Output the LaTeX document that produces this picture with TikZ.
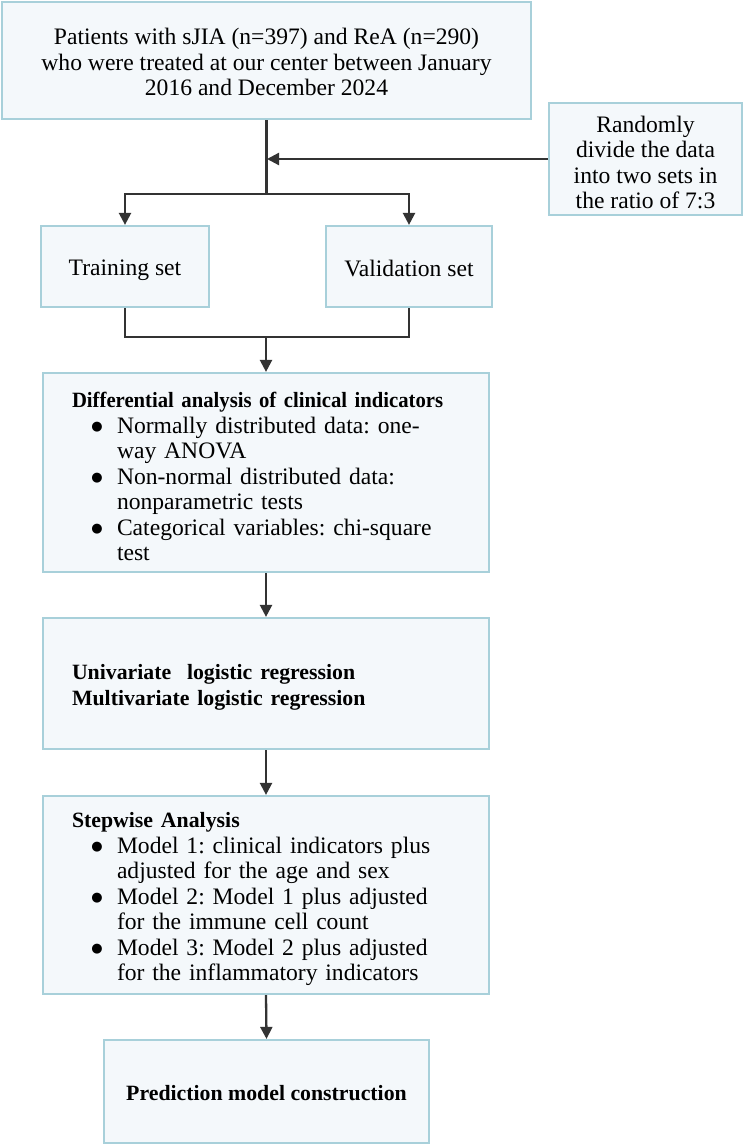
\documentclass[tikz,border=0pt]{standalone}
\usepackage{fontspec}
\setmainfont{Liberation Serif}
\newfontfamily\symfont{DejaVu Sans}
\usetikzlibrary{arrows.meta}
\definecolor{boxfill}{RGB}{244,248,251}
\definecolor{boxline}{RGB}{168,208,218}
\definecolor{arrowc}{RGB}{51,51,51}
\newcommand{\regfont}{\fontsize{23.6}{25.5}\selectfont\frenchspacing}
\newcommand{\titfont}{\fontsize{21.8}{25.5}\selectfont\bfseries}
\newcommand{\bul}{\hspace*{25pt}\makebox[0pt][c]{\raisebox{3pt}{\symfont\fontsize{13}{14}\selectfont ●}}\hspace*{20pt}}
\newcommand{\cont}{\hspace*{45pt}}
\begin{document}
\begin{tikzpicture}[x=1pt,y=-1pt,
  box/.style={draw=boxline, line width=2.2pt, fill=boxfill, inner sep=0pt},
  txt/.style={inner sep=0pt, font=\regfont},
  ltxt/.style={txt, text width=388pt, align=left},
  conn/.style={draw=arrowc, line width=2.3pt},
  arr/.style={conn, -{Triangle[length=12pt,width=12pt]}}]
\useasboundingbox (0,0) rectangle (744,1145);
% boxes
\node[box, minimum width=529pt, minimum height=117pt] (top) at (266.5,60.5) {};
\node[box, minimum width=193pt, minimum height=112pt] (rand) at (645.5,159) {};
\node[box, minimum width=168pt, minimum height=81pt] (train) at (125,266.5) {};
\node[box, minimum width=166pt, minimum height=81pt] (val) at (409,266.5) {};
\node[box, minimum width=446pt, minimum height=199pt] (diff) at (266,472.5) {};
\node[box, minimum width=446pt, minimum height=131pt] (uni) at (266,683.5) {};
\node[box, minimum width=446pt, minimum height=198pt] (step) at (266,895) {};
\node[box, minimum width=325pt, minimum height=103pt] (pred) at (266.5,1091.5) {};
% texts
\node[txt, align=center] (topT) at (266.5,62)
  {Patients with sJIA (n=397) and ReA (n=290)\\who were treated at our center between January\\2016 and December 2024};
\node[txt, align=center] (randT) at (645.5,162.5)
  {Randomly\\divide the data\\into two sets in\\the ratio of 7:3};
\node[txt] (trainT) at (125,270.5) {Training set};
\node[txt] (valT) at (409,268.5) {Validation set};
\node[ltxt] (diffT) at (266,476.5)
  {{\titfont\scalebox{0.95}[1]{Differential analysis of clinical indicators}}\\
   \bul Normally distributed data: one-\\
   \cont way ANOVA\\
   \bul Non-normal distributed data:\\
   \cont nonparametric tests\\
   \bul Categorical variables: chi-square\\
   \cont test};
\node[ltxt] (uniT) at (266,687.5)
  {{\titfont Univariate~ logistic regression}\\
   {\titfont Multivariate logistic regression}};
\node[ltxt] (stepT) at (266,899)
  {{\titfont Stepwise Analysis}\\
   \bul Model 1: clinical indicators plus\\
   \cont adjusted for the age and sex\\
   \bul Model 2: Model 1 plus adjusted\\
   \cont for the immune cell count\\
   \bul Model 3: Model 2 plus adjusted\\
   \cont for the inflammatory indicators};
\node[txt, font=\titfont] (predT) at (266.5,1093.5) {Prediction model construction};
% connectors
\coordinate (split) at (266.5,194);
\coordinate (join) at (266,337);
\draw[conn] (top.south) -- (split);
\draw[arr] (split) -| (train.north);
\draw[arr] (split) -| (val.north);
\draw[arr, shorten >=0.5pt] (rand.west) -- (top.south |- rand.west);
\draw[conn] (train.south) |- (join) -| (val.south);
\draw[arr] (join) -- (diff.north);
\draw[arr] (diff.south) -- (uni.north);
\draw[arr] (uni.south) -- (step.north);
\draw[arr] (step.south) -- (pred.north);
\end{tikzpicture}
\end{document}
